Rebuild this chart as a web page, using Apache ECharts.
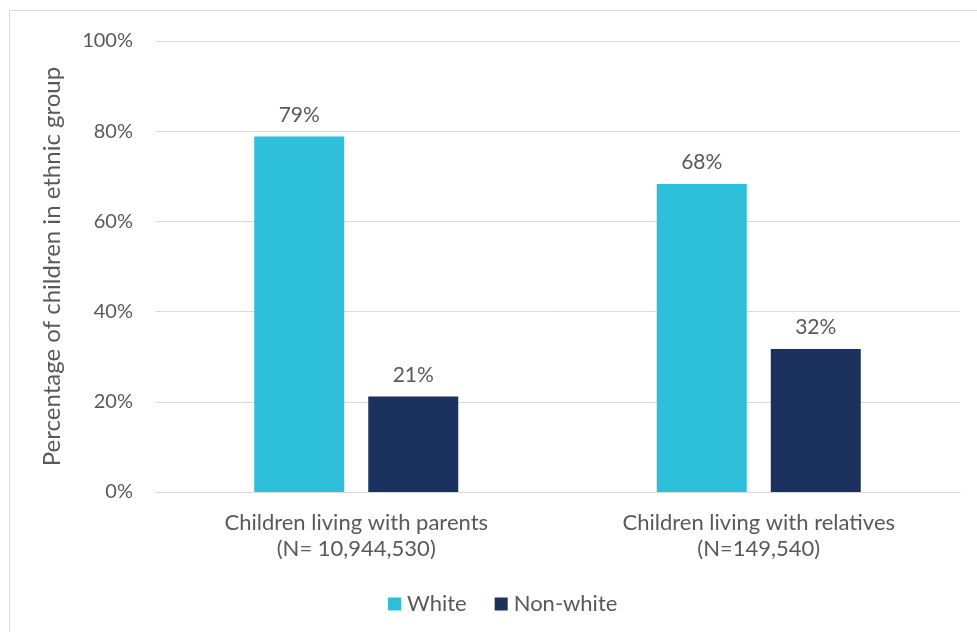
<!DOCTYPE html>
<html>
<head>
<meta charset="utf-8">
<script src="https://cdn.jsdelivr.net/npm/echarts@6/dist/echarts.min.js"></script>
<style>html,body{margin:0;padding:0;background:#fff}#c{width:977px;height:632px}</style>
</head>
<body>
<div id="c"></div>
<script>
var categories = ['Children living with parents\n(N= 10,944,530)', 'Children living with relatives\n(N=149,540)'];
var whiteValues = [78.8, 68.3];
var nonWhiteValues = [21.2, 31.7];
var yTicks = [0, 20, 40, 60, 80, 100];

var FONT = 'Lato, "Open Sans", sans-serif';
var TXT = '#595959';
var chart = echarts.init(document.getElementById('c'));
chart.setOption({
  animation: false,
  textStyle: { fontFamily: FONT },
  graphic: [{
    type: 'rect', silent: true,
    shape: { x: 9.5, y: 10.5, width: 1000, height: 700 },
    style: { fill: 'none', stroke: '#d9d9d9', lineWidth: 1 }
  }],
  grid: { left: 155, right: 17, top: 41, bottom: 140, containLabel: false },
  legend: {
    bottom: 12, left: 383, itemWidth: 13, itemHeight: 13, itemGap: 28,
    icon: 'rect',
    textStyle: { color: TXT, fontSize: 22, fontFamily: FONT, padding: [0, 0, 0, 1] },
    data: ['White', 'Non-white']
  },
  xAxis: {
    type: 'category', data: categories,
    axisLine: { lineStyle: { color: '#d9d9d9', width: 1 } },
    axisTick: { show: false },
    axisLabel: { color: TXT, fontSize: 22, lineHeight: 26, margin: 18, fontFamily: FONT }
  },
  yAxis: {
    type: 'value', min: 0, max: 100, interval: 20,
    name: 'Percentage of children in ethnic group',
    nameLocation: 'middle', nameGap: 91, nameRotate: 90,
    nameTextStyle: { color: TXT, fontSize: 24, fontFamily: FONT },
    axisLine: { show: false }, axisTick: { show: false },
    axisLabel: { color: TXT, fontSize: 20, margin: 22, fontFamily: FONT,
      formatter: function (v) { return yTicks.indexOf(v) >= 0 ? v + '%' : ''; } },
    splitLine: { lineStyle: { color: '#d9d9d9', width: 1 } }
  },
  series: [
    { name: 'White', type: 'bar', data: whiteValues, barWidth: 90, barGap: '26.7%',
      itemStyle: { color: '#2dbfda' },
      label: { show: true, position: 'top', distance: 11, color: TXT, fontSize: 21, fontFamily: FONT,
        formatter: function (p) { return Math.round(p.value) + '%'; } } },
    { name: 'Non-white', type: 'bar', data: nonWhiteValues, barWidth: 90,
      itemStyle: { color: '#1b315e' },
      label: { show: true, position: 'top', distance: 11, color: TXT, fontSize: 21, fontFamily: FONT,
        formatter: function (p) { return Math.round(p.value) + '%'; } } }
  ]
});
</script>
</body>
</html>
